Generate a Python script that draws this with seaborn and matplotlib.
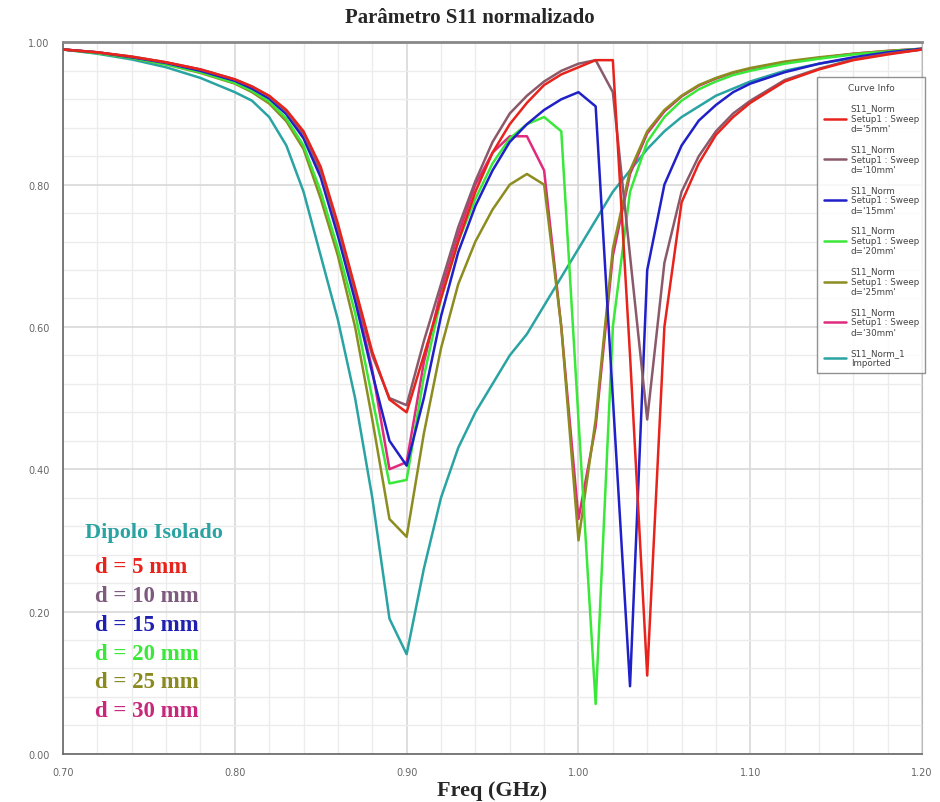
import numpy as np
import pandas as pd
import matplotlib
matplotlib.use("Agg")
import matplotlib.pyplot as plt
from matplotlib.ticker import MultipleLocator, FormatStrFormatter
import seaborn as sns

sns.set_style("white")

# frequencias (GHz)
freq = [0.70, 0.72, 0.74, 0.76, 0.78,
        0.80, 0.81, 0.82, 0.83, 0.84, 0.85, 0.86, 0.87, 0.88, 0.89, 0.90,
        0.91, 0.92, 0.93, 0.94, 0.95, 0.96, 0.97, 0.98, 0.99, 1.00,
        1.01, 1.02, 1.03, 1.04, 1.05, 1.06, 1.07, 1.08, 1.09, 1.10,
        1.12, 1.14, 1.16, 1.18, 1.20]

s11_d5 = [0.990, 0.986, 0.980, 0.972, 0.962,
          0.948, 0.938, 0.925, 0.905, 0.875, 0.825, 0.745, 0.655, 0.565, 0.498, 0.480,
          0.560, 0.640, 0.720, 0.790, 0.845, 0.885, 0.915, 0.940, 0.955, 0.965,
          0.975, 0.975, 0.560, 0.110, 0.600, 0.775, 0.830, 0.870, 0.895, 0.915,
          0.945, 0.962, 0.975, 0.983, 0.990]
s11_d10 = [0.990, 0.986, 0.980, 0.972, 0.962,
           0.948, 0.938, 0.924, 0.903, 0.872, 0.820, 0.740, 0.650, 0.560, 0.500, 0.490,
           0.580, 0.660, 0.740, 0.805, 0.860, 0.900, 0.925, 0.945, 0.960, 0.970,
           0.975, 0.930, 0.700, 0.470, 0.690, 0.790, 0.840, 0.875, 0.900, 0.918,
           0.947, 0.963, 0.976, 0.984, 0.990]
s11_d15 = [0.990, 0.986, 0.979, 0.971, 0.960,
           0.946, 0.935, 0.921, 0.899, 0.865, 0.810, 0.728, 0.637, 0.535, 0.440, 0.405,
           0.500, 0.615, 0.705, 0.770, 0.820, 0.860, 0.885, 0.905, 0.920, 0.930,
           0.910, 0.500, 0.095, 0.680, 0.800, 0.855, 0.890, 0.912, 0.930, 0.942,
           0.958, 0.970, 0.979, 0.986, 0.991]
s11_d20 = [0.990, 0.985, 0.978, 0.969, 0.958,
           0.943, 0.932, 0.917, 0.893, 0.855, 0.790, 0.710, 0.620, 0.500, 0.380, 0.385,
           0.530, 0.640, 0.720, 0.780, 0.830, 0.865, 0.885, 0.895, 0.875, 0.470,
           0.070, 0.600, 0.790, 0.860, 0.895, 0.918, 0.934, 0.945, 0.954, 0.960,
           0.970, 0.977, 0.983, 0.987, 0.991]
s11_d25 = [0.990, 0.985, 0.978, 0.969, 0.957,
           0.942, 0.930, 0.914, 0.889, 0.850, 0.780, 0.700, 0.600, 0.470, 0.330, 0.305,
           0.450, 0.570, 0.660, 0.720, 0.765, 0.800, 0.815, 0.800, 0.600, 0.300,
           0.470, 0.710, 0.820, 0.875, 0.905, 0.925, 0.940, 0.950, 0.958, 0.964,
           0.973, 0.979, 0.984, 0.988, 0.991]
s11_d30 = [0.990, 0.986, 0.979, 0.971, 0.960,
           0.946, 0.936, 0.922, 0.900, 0.868, 0.815, 0.735, 0.645, 0.540, 0.400, 0.410,
           0.550, 0.650, 0.730, 0.800, 0.845, 0.868, 0.868, 0.820, 0.600, 0.330,
           0.460, 0.700, 0.815, 0.872, 0.903, 0.924, 0.939, 0.949, 0.957, 0.963,
           0.972, 0.978, 0.984, 0.988, 0.991]
s11_isolado = [0.990, 0.984, 0.976, 0.965, 0.950,
               0.930, 0.918, 0.895, 0.855, 0.790, 0.700, 0.610, 0.500, 0.360, 0.190, 0.140,
               0.260, 0.360, 0.430, 0.480, 0.520, 0.560, 0.590, 0.630, 0.670, 0.710,
               0.750, 0.790, 0.820, 0.850, 0.875, 0.895, 0.910, 0.925, 0.935, 0.945,
               0.960, 0.970, 0.978, 0.985, 0.990]

curve_labels = ["S11_Norm\nSetup1 : Sweep\nd='5mm'",
                "S11_Norm\nSetup1 : Sweep\nd='10mm'",
                "S11_Norm\nSetup1 : Sweep\nd='15mm'",
                "S11_Norm\nSetup1 : Sweep\nd='20mm'",
                "S11_Norm\nSetup1 : Sweep\nd='25mm'",
                "S11_Norm\nSetup1 : Sweep\nd='30mm'",
                "S11_Norm_1\nImported"]
curve_colors = ['#e8231c', '#8a5a6a', '#2020c8', '#3ae83a', '#8c8c20', '#e02a7c', '#2aa3a3']
series = [s11_d5, s11_d10, s11_d15, s11_d20, s11_d25, s11_d30, s11_isolado]

# texto das anotacoes
annot_title = 'Dipolo Isolado'
annot_lines = ['d = 5 mm', 'd = 10 mm', 'd = 15 mm', 'd = 20 mm', 'd = 25 mm', 'd = 30 mm']
annot_colors = ['#e8231c', '#7e5a7e', '#2020b0', '#3ae83a', '#8a8a20', '#c8287c']

rows = []
for lab, vals in zip(curve_labels, series):
    for f, v in zip(freq, vals):
        rows.append({'Freq': f, 'S11': v, 'Curva': lab})
df = pd.DataFrame(rows)

fig = plt.figure(figsize=(9.4, 8.03), dpi=100)
ax = fig.add_axes([0.067, 0.06, 0.914, 0.886])

palette = dict(zip(curve_labels, curve_colors))
sns.lineplot(data=df, x='Freq', y='S11', hue='Curva', hue_order=curve_labels[::-1],
             palette=palette, linewidth=1.8, estimator=None, sort=False, ax=ax)

ax.set_xlim(0.70, 1.20)
ax.set_ylim(0.0, 1.0)
ax.xaxis.set_major_locator(MultipleLocator(0.1))
ax.xaxis.set_minor_locator(MultipleLocator(0.02))
ax.yaxis.set_major_locator(MultipleLocator(0.2))
ax.yaxis.set_minor_locator(MultipleLocator(0.04))
ax.xaxis.set_major_formatter(FormatStrFormatter('%.2f'))
ax.yaxis.set_major_formatter(FormatStrFormatter('%.2f'))
ax.tick_params(which='major', direction='out', length=6, width=1, colors='#555555',
               labelsize=7, labelcolor='#666666')
ax.tick_params(which='minor', direction='out', length=3, width=1, colors='#555555')
ax.grid(which='major', color='#d8d8d8', linewidth=1.2)
ax.grid(which='minor', color='#ececec', linewidth=1.0)
ax.set_axisbelow(True)
for side in ['left', 'bottom']:
    ax.spines[side].set_color('#666666')
    ax.spines[side].set_linewidth(1.2)
ax.spines['top'].set_color('#888888')
ax.spines['top'].set_linewidth(2.0)
ax.spines['right'].set_color('#bbbbbb')

ax.set_xlabel('Freq (GHz)', fontsize=16, fontweight='bold', family='Liberation Serif', labelpad=2)
ax.set_ylabel('')
fig.text(0.5, 0.977, 'Parâmetro S11 normalizado', ha='center', va='center',
         fontsize=15, fontweight='bold', family='Liberation Serif')

# legenda "Curve Info"
handles, labels = ax.get_legend_handles_labels()
order = [labels.index(l) for l in curve_labels]
leg = ax.legend([handles[i] for i in order], [labels[i] for i in order],
                title='Curve Info', loc='upper left', bbox_to_anchor=(0.873, 0.957),
                fontsize=6.3, title_fontsize=6.5, frameon=True, fancybox=False,
                handlelength=2.6, handletextpad=0.5, labelspacing=1.25,
                borderpad=0.7, edgecolor='#777777')
leg.get_frame().set_linewidth(1.0)
for t in leg.get_texts():
    t.set_color('#444444')
leg.get_title().set_color('#444444')

# anotacoes
ax.text(0.026, 0.312, annot_title, transform=ax.transAxes, fontsize=16,
        fontweight='bold', family='Liberation Serif', color='#2aa3a3', va='center')
for i, (txt, col) in enumerate(zip(annot_lines, annot_colors)):
    ax.text(0.037, 0.263 - i * 0.0405, txt, transform=ax.transAxes, fontsize=16.5,
            fontweight='bold', family='Liberation Serif', color=col, va='center')

plt.savefig('out.png', dpi=100)
